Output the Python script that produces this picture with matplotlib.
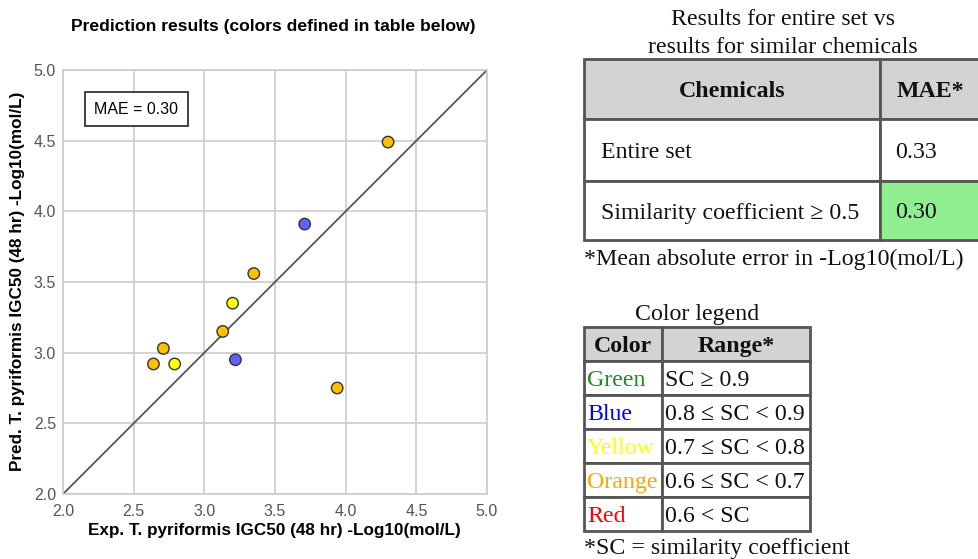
import matplotlib
matplotlib.use("Agg")
import matplotlib.pyplot as plt
from matplotlib.patches import Rectangle

# ===================== 数据 =====================
exp_vals = [4.30, 3.71, 3.35, 3.20, 3.13, 2.71, 2.64, 2.79, 3.22, 3.94]
pred_vals = [4.49, 3.91, 3.56, 3.35, 3.15, 3.03, 2.92, 2.92, 2.95, 2.75]
point_cls = ["orange", "blue", "orange", "yellow", "orange", "orange", "orange", "yellow", "blue", "orange"]
mae_value = 0.30

axis_ticks = [2.0, 2.5, 3.0, 3.5, 4.0, 4.5, 5.0]

mae_header = ["Chemicals", "MAE*"]
mae_rows = ["Entire set", "Similarity coefficient \u2265 0.5"]
mae_vals = ["0.33", "0.30"]

legend_header = ["Color", "Range*"]
legend_names = ["Green", "Blue", "Yellow", "Orange", "Red"]
legend_ranges = ["SC \u2265 0.9", "0.8 \u2264 SC < 0.9", "0.7 \u2264 SC < 0.8",
                 "0.6 \u2264 SC < 0.7", "0.6 < SC"]

# ===================== 样式 =====================
marker_colors = {"orange": "#FFC000", "yellow": "#FFFF00", "blue": "#6060FF"}
name_colors = {"Green": "#228B22", "Blue": "#0000FF", "Yellow": "#FFFF00",
               "Orange": "#FFA500", "Red": "#FF0000"}
SANS = ["Liberation Sans", "DejaVu Sans"]
SERIF = ["Liberation Serif", "DejaVu Serif"]
FS = 17.2  # 右侧表格字号

W, H = 979, 559
fig = plt.figure(figsize=(W / 100, H / 100), dpi=100)

# ===================== 散点图 =====================
ax = fig.add_axes([63 / W, (H - 494) / H, 424 / W, 424 / H])
ax.set_xlim(2, 5)
ax.set_ylim(2, 5)
ax.set_xticks(axis_ticks)
ax.set_yticks(axis_ticks)
ax.set_xticklabels([f"{t:.1f}" for t in axis_ticks], family=SANS, fontsize=11.5, color="#555555")
ax.set_yticklabels([f"{t:.1f}" for t in axis_ticks], family=SANS, fontsize=11.5, color="#555555")
ax.tick_params(axis="x", length=0, pad=7)
ax.tick_params(axis="y", length=0, pad=5)
ax.grid(True, color="#CCCCCC", lw=1.2)
ax.set_axisbelow(True)
for s in ax.spines.values():
    s.set_color("#CCCCCC")
    s.set_linewidth(1.2)

ax.plot([2, 5], [2, 5], color="#555555", lw=1.3, zorder=2)
ax.scatter(exp_vals, pred_vals, s=68, c=[marker_colors[c] for c in point_cls],
           edgecolors="#333333", linewidths=1.0, zorder=3)

ax.text(0.173, 0.908, f"MAE = {mae_value:.2f}", transform=ax.transAxes, family=SANS,
        fontsize=11.5, va="center", ha="center",
        bbox=dict(boxstyle="square,pad=0.6", fc="white", ec="#333333", lw=1.3))

fig.text(273.5 / W, 1 - 27 / H, "Prediction results (colors defined in table below)",
         family=SANS, fontsize=12.6, fontweight="bold", ha="center", va="center")
fig.text(274.5 / W, 1 - 530 / H, "Exp. T. pyriformis IGC50 (48 hr) -Log10(mol/L)",
         family=SANS, fontsize=12.3, fontweight="bold", ha="center", va="center")
fig.text(18 / W, 1 - 281 / H, "Pred. T. pyriformis IGC50 (48 hr) -Log10(mol/L)",
         family=SANS, fontsize=12.3, fontweight="bold", ha="center", va="center",
         rotation=90)

# ===================== 右侧表格 =====================
tx = fig.add_axes([0, 0, 1, 1])
tx.set_xlim(0, W)
tx.set_ylim(H, 0)
tx.axis("off")

def cell(x0, y0, x1, y1, fc="white"):
    tx.add_patch(Rectangle((x0, y0), x1 - x0, y1 - y0, fc=fc, ec="#555555", lw=2.0,
                           clip_on=False))

def txt(x, y, s, ha="left", size=FS, color="#111111", weight="normal"):
    # 衬线字体视觉中心略偏上，往下挪一点
    tx.text(x, y + 2.5, s, ha=ha, va="center", family=SERIF, fontsize=size, color=color,
            fontweight=weight)

# 表1: MAE
txt(783, 17, "Results for entire set vs", ha="center")
txt(783, 45, "results for similar chemicals", ha="center")
xs = [584, 880, 1000]
ys = [59, 119, 181, 240]
cell(xs[0], ys[0], xs[1], ys[1], fc="#D3D3D3")
cell(xs[1], ys[0], xs[2], ys[1], fc="#D3D3D3")
txt((xs[0] + xs[1]) / 2, 89, mae_header[0], ha="center", weight="bold")
txt(930, 89, mae_header[1], ha="center", weight="bold")
for i, (name, val) in enumerate(zip(mae_rows, mae_vals)):
    y0, y1 = ys[i + 1], ys[i + 2]
    cell(xs[0], y0, xs[1], y1)
    cell(xs[1], y0, xs[2], y1, fc="#90EE90" if i == 1 else "white")
    txt(601, (y0 + y1) / 2, name)
    txt(895, (y0 + y1) / 2, val)
txt(584, 257, "*Mean absolute error in -Log10(mol/L)")

# 表2: 颜色图例
txt(697, 312, "Color legend", ha="center")
lx = [584, 662, 810]
ly = [327, 361, 395, 429, 463, 497, 531]
cell(lx[0], ly[0], lx[1], ly[1], fc="#D3D3D3")
cell(lx[1], ly[0], lx[2], ly[1], fc="#D3D3D3")
txt((lx[0] + lx[1]) / 2, 344, legend_header[0], ha="center", weight="bold")
txt((lx[1] + lx[2]) / 2, 344, legend_header[1], ha="center", weight="bold")
for i, (name, rng) in enumerate(zip(legend_names, legend_ranges)):
    y0, y1 = ly[i + 1], ly[i + 2]
    cell(lx[0], y0, lx[1], y1)
    cell(lx[1], y0, lx[2], y1)
    txt(587, (y0 + y1) / 2, name, color=name_colors[name])
    txt(665, (y0 + y1) / 2, rng)
txt(584, 546, "*SC = similarity coefficient")

fig.savefig("out.png", dpi=100)
